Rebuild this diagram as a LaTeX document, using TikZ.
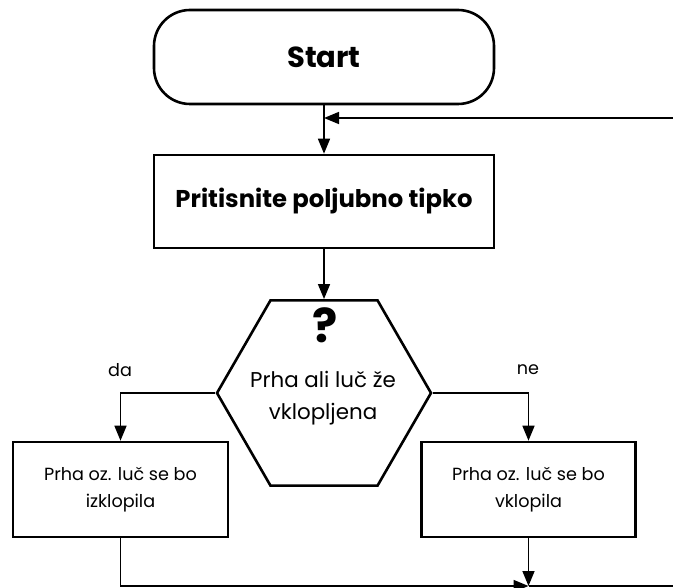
\documentclass[tikz,border=0pt]{standalone}
\usepackage{fontspec}
\setmainfont{Poppins}
\usetikzlibrary{arrows.meta,shapes.geometric}
\begin{document}
\begin{tikzpicture}[x=1pt,y=-1pt,
  boxstyle/.style={draw, line width=2.6pt, inner sep=0pt, align=center},
  conn/.style={line width=1.6pt},
  arr/.style={conn, -{Triangle[length=15pt,width=12pt]}},
  small/.style={font=\fontsize{17.6}{27}\selectfont},
  mid/.style={font=\fontsize{21.4}{32}\selectfont}]
\useasboundingbox (0,0) rectangle (673,588);
\node[boxstyle, rounded corners=36pt, minimum width=340pt, minimum height=94pt,
  font=\fontsize{29}{34}\selectfont\bfseries] (start) at (324,57) {Start};
\node[boxstyle, minimum width=340pt, minimum height=93pt,
  font=\fontsize{24.3}{28}\selectfont\bfseries] (press) at (324,201.5) {Pritisnite poljubno tipko};
\node[draw, line width=2.6pt, regular polygon, regular polygon sides=6,
  minimum size=214pt, inner sep=0pt] (q) at (324,393) {};
\node[font=\fontsize{47}{50}\selectfont\bfseries, inner sep=0pt] (qmark) at (325.5,325.5) {?};
\node[mid, align=center] (qtext) at (323,398) {Prha ali luč že\\vklopljena};
\node[boxstyle, small, minimum width=215pt, minimum height=95pt] (left) at (120.5,489.5) {Prha oz. luč se bo\\izklopila};
\node[boxstyle, small, minimum width=214pt, minimum height=95pt] (right) at (528.5,489.5) {Prha oz. luč se bo\\vklopila};
\coordinate (fb) at (673,118);
\coordinate (fbin) at (324,118);
\coordinate (br) at (673,586);
\coordinate (m) at (right.south |- br);
\draw[arr] (start.south) -- (press.north);
\draw[arr] (fb) -- (fbin);
\draw[arr] (press.south) -- (q.north);
\draw[arr] (q.west) -| (left.north);
\draw[arr] (q.east) -| (right.north);
\node[small] (da) at (120,370) {da};
\node[small] (ne) at (528,370) {ne};
\draw[arr] (right.south) -- (m);
\draw[arr] (left.south) |- (m);
\draw[conn] (m) -- (br);
\end{tikzpicture}
\end{document}
